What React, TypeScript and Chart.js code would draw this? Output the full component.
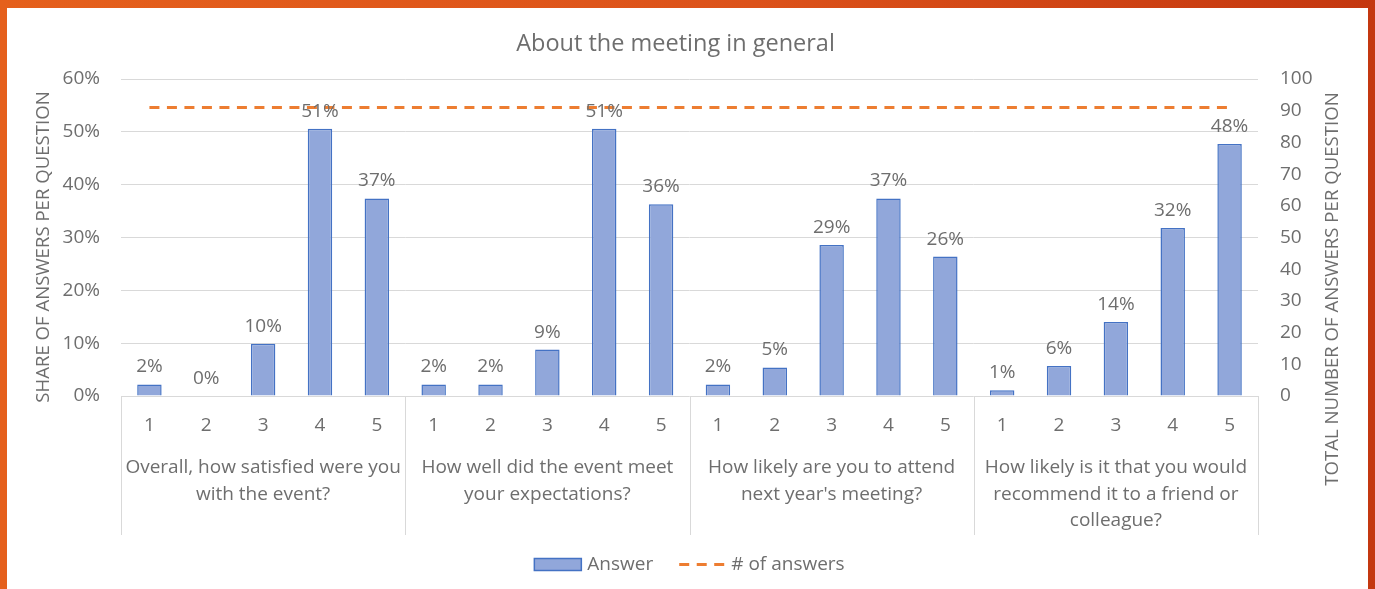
import React, { useEffect, useRef } from 'react';
import { Chart, registerables } from 'chart.js';

Chart.register(...registerables);

const chartTitle = 'About the meeting in general';
const leftAxisTitle = 'SHARE OF ANSWERS PER QUESTION';
const rightAxisTitle = 'TOTAL NUMBER OF ANSWERS PER QUESTION';
const answerScale = ['1', '2', '3', '4', '5'];
const questionLines = [
  ['Overall, how satisfied were you', 'with the event?'],
  ['How well did the event meet', 'your expectations?'],
  ['How likely are you to attend', "next year's meeting?"],
  ['How likely is it that you would', 'recommend it to a friend or', 'colleague?'],
];
const overallSatisfied = [0.022, 0, 0.099, 0.506, 0.374];
const metExpectations = [0.022, 0.022, 0.088, 0.506, 0.363];
const attendNextYear = [0.022, 0.054, 0.286, 0.374, 0.264];
const recommendFriend = [0.011, 0.057, 0.14, 0.318, 0.477];
const answersPerQuestion = [91, 91, 91, 91];
const seriesNames = ['Answer', '# of answers'];

const FONT = "'Open Sans', 'DejaVu Sans', sans-serif";
const TEXT = '#6e6e6e';
const GRID = '#d9d9d9';
const BAR_FILL = 'rgb(145,167,218)';
const BAR_BORDER = '#4472C4';
const LINE_COLOR = '#ED7D31';
const FS = 19;

const labels: string[] = [];
questionLines.forEach(() => answerScale.forEach((a) => labels.push(a)));
const shares = [...overallSatisfied, ...metExpectations, ...attendNextYear, ...recommendFriend];
const counts: number[] = [];
answersPerQuestion.forEach((n) => answerScale.forEach(() => counts.push(n)));

const drawPlugin = {
  id: 'excelExtras',
  afterDatasetsDraw(chart: any) {
    const ctx = chart.ctx as CanvasRenderingContext2D;
    ctx.save();
    const meta = chart.getDatasetMeta(1);
    ctx.fillStyle = TEXT;
    ctx.font = `${FS}px ${FONT}`;
    ctx.textAlign = 'center';
    ctx.textBaseline = 'alphabetic';
    meta.data.forEach((el: any, i: number) => {
      const v = shares[i];
      ctx.fillText(`${Math.round(v * 100)}%`, el.x, el.y - 12);
    });
    ctx.restore();
  },
  afterDraw(chart: any) {
    const ctx = chart.ctx as CanvasRenderingContext2D;
    const area = chart.chartArea;
    const x = chart.scales.x;
    const n = answerScale.length;
    ctx.save();
    ctx.fillStyle = TEXT;
    ctx.font = `23.5px ${FONT}`;
    ctx.textAlign = 'center';
    ctx.textBaseline = 'middle';
    ctx.fillText(chartTitle, chart.width / 2 - 12, 36);

    ctx.font = `18.6px ${FONT}`;
    ctx.save();
    ctx.translate(37, 239);
    ctx.rotate(-Math.PI / 2);
    ctx.fillText(leftAxisTitle, 0, 0);
    ctx.restore();
    ctx.save();
    ctx.translate(1326, 281);
    ctx.rotate(-Math.PI / 2);
    ctx.fillText(rightAxisTitle, 0, 0);
    ctx.restore();

    ctx.strokeStyle = GRID;
    ctx.lineWidth = 1;
    for (let g = 0; g <= questionLines.length; g++) {
      const px = Math.round(x.getPixelForValue(g * n - 0.5)) + 0.5;
      ctx.beginPath();
      ctx.moveTo(px, area.bottom);
      ctx.lineTo(px, area.bottom + 139);
      ctx.stroke();
    }
    ctx.font = `${FS}px ${FONT}`;
    ctx.fillStyle = TEXT;
    questionLines.forEach((lines, g) => {
      const cx = (x.getPixelForValue(g * n - 0.5) + x.getPixelForValue(g * n + n - 0.5)) / 2;
      lines.forEach((line, li) => {
        ctx.fillText(line, cx, area.bottom + 72 + li * 26.5);
      });
    });

    ctx.font = `${FS}px ${FONT}`;
    const w1 = ctx.measureText(seriesNames[0]).width;
    const w2 = ctx.measureText(seriesNames[1]).width;
    const total = 47 + 6 + w1 + 26 + 47 + 5 + w2;
    let lx = (area.left + area.right) / 2 - total / 2;
    const ly = 556.5;
    ctx.fillStyle = BAR_FILL;
    ctx.fillRect(lx, ly - 6, 47, 12);
    ctx.strokeStyle = BAR_BORDER;
    ctx.lineWidth = 1.5;
    ctx.strokeRect(lx, ly - 6, 47, 12);
    lx += 47 + 6;
    ctx.fillStyle = TEXT;
    ctx.textAlign = 'left';
    ctx.fillText(seriesNames[0], lx, ly);
    lx += w1 + 26;
    ctx.strokeStyle = LINE_COLOR;
    ctx.lineWidth = 3;
    ctx.setLineDash([10, 7.5]);
    ctx.beginPath();
    ctx.moveTo(lx, ly);
    ctx.lineTo(lx + 47, ly);
    ctx.stroke();
    ctx.setLineDash([]);
    lx += 47 + 5;
    ctx.fillText(seriesNames[1], lx, ly);
    ctx.restore();
  },
};

export default function App() {
  const ref = useRef<HTMLCanvasElement>(null);
  useEffect(() => {
    if (!ref.current) return;
    const chart = new Chart(ref.current, {
      type: 'bar',
      data: {
        labels,
        datasets: [
          {
            type: 'line',
            label: seriesNames[1],
            data: counts,
            yAxisID: 'y1',
            borderColor: LINE_COLOR,
            borderWidth: 3,
            borderDash: [10, 7.5],
            pointRadius: 0,
            fill: false,
            order: 0,
          } as any,
          {
            type: 'bar',
            label: seriesNames[0],
            data: shares,
            yAxisID: 'y',
            backgroundColor: BAR_FILL,
            borderColor: BAR_BORDER,
            borderWidth: 1.5,
            categoryPercentage: 1,
            barPercentage: 0.43,
            order: 1,
          },
        ],
      },
      options: {
        responsive: false,
        animation: false,
        layout: { padding: { top: 71, left: 0, right: 0, bottom: 0 } },
        plugins: {
          legend: { display: false },
          title: { display: false },
          tooltip: { enabled: false },
        },
        scales: {
          x: {
            type: 'category',
            grid: { display: false },
            border: { display: false },
            ticks: {
              color: TEXT,
              font: { family: FONT, size: FS },
              padding: 10,
              maxRotation: 0,
              autoSkip: false,
            },
            afterFit(s: any) {
              s.height = 193;
            },
          },
          y: {
            position: 'left',
            min: 0,
            max: 0.6,
            grid: { color: GRID, drawTicks: false, lineWidth: 1 },
            border: { display: false },
            ticks: {
              stepSize: 0.1,
              color: TEXT,
              font: { family: FONT, size: FS },
              padding: 21,
              callback: (v: any) => `${Math.round(Number(v) * 100)}%`,
            },
            afterFit(s: any) {
              s.width = 114;
            },
          },
          y1: {
            position: 'right',
            min: 0,
            max: 100,
            grid: { drawOnChartArea: false, drawTicks: false },
            border: { display: false },
            ticks: {
              stepSize: 10,
              color: TEXT,
              font: { family: FONT, size: FS },
              padding: 22,
            },
            afterFit(s: any) {
              s.width = 110;
            },
          },
        },
      } as any,
      plugins: [drawPlugin],
    });
    return () => chart.destroy();
  }, []);

  return (
    <div
      style={{
        position: 'fixed',
        left: 0,
        top: 0,
        width: 1375,
        height: 589,
        background: 'linear-gradient(90deg, #e5601c 0%, #dc521a 55%, #c4370f 100%)',
        overflow: 'hidden',
      }}
    >
      <div
        style={{
          position: 'absolute',
          left: 7,
          top: 8,
          width: 1361,
          height: 581,
          background: '#ffffff',
        }}
      >
        <canvas ref={ref} width={1361} height={581} style={{ display: 'block' }} />
      </div>
    </div>
  );
}
